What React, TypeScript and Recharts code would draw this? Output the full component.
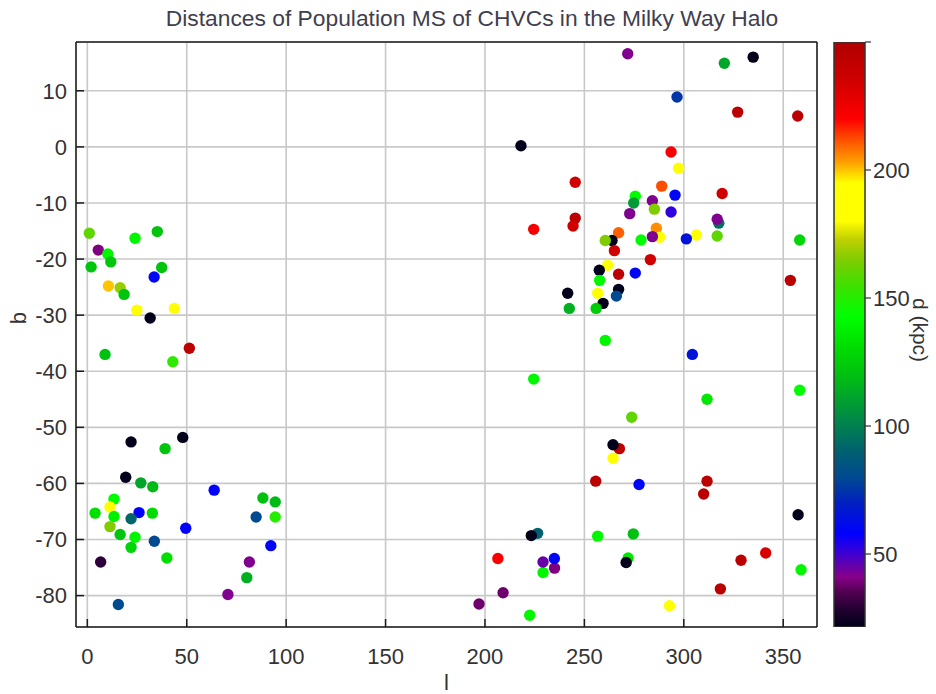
import {
  Bar,
  BarChart,
  CartesianGrid,
  Label,
  Scatter,
  ScatterChart,
  XAxis,
  YAxis,
} from "recharts";

// galactic longitude l (deg)
const lon = [
  1.0, 24.0, 35.2, 5.5, 10.3, 11.8, 1.9, 37.4, 33.6, 10.6, 16.5, 18.5, 24.9, 43.8, 31.6, 51.3, 8.9, 43.0,
  22.0, 48.0, 39.1, 19.3, 26.9, 32.9, 63.8, 88.3, 94.5, 13.4, 11.4, 3.9, 13.4, 26.0, 22.0, 32.7, 11.4, 16.5,
  24.0, 22.0, 33.7, 49.5, 84.9, 94.5, 92.3, 6.7, 40.0, 81.5, 80.2, 70.7, 15.6,
  271.8, 320.4, 334.9, 296.6, 327.1, 357.3, 218.1, 293.6, 297.4, 245.4, 288.9, 319.3, 295.6, 275.6, 274.8,
  284.2, 285.2, 293.6, 272.8, 245.4, 244.3, 224.5, 317.6, 316.8, 286.2, 267.2, 287.9, 284.2, 306.3, 301.3,
  316.8, 278.5, 263.9, 260.5, 358.3, 265.1, 283.2, 261.7, 257.5, 267.2, 275.6, 257.7, 353.6, 241.6, 256.7,
  267.2, 266.1, 259.4, 242.4, 255.9, 260.5,
  304.3, 224.5, 358.3, 311.7, 273.8, 267.6, 264.4, 264.4, 255.7, 277.5, 311.7, 310.0, 357.5, 226.5, 223.3,
  256.7, 274.6, 206.5, 229.2, 235.0, 229.2, 234.9, 272.0, 271.0, 341.2, 328.8, 318.4, 209.1, 197.0, 222.5,
  292.8, 359.0,
];

// galactic latitude b (deg)
const lat = [
  -15.4, -16.3, -15.1, -18.4, -19.1, -20.5, -21.4, -21.5, -23.2, -24.8, -25.1, -26.3, -29.1, -28.8, -30.5, -35.9, -37.0, -38.3,
  -52.6, -51.8, -53.8, -58.9, -59.9, -60.6, -61.2, -62.6, -63.3, -62.8, -64.2, -65.3, -65.9, -65.2, -66.3, -65.3, -67.7, -69.1,
  -69.6, -71.4, -70.3, -68.0, -66.0, -66.0, -71.1, -74.0, -73.3, -74.0, -76.8, -79.8, -81.6,
  16.6, 14.9, 16.0, 8.9, 6.2, 5.5, 0.2, -0.9, -3.8, -6.3, -7.0, -8.3, -8.6, -8.8, -10.0,
  -9.6, -11.1, -11.6, -11.9, -12.7, -14.1, -14.7, -13.6, -12.9, -14.5, -15.3, -16.1, -16.0, -15.7, -16.4,
  -15.9, -16.6, -16.7, -16.7, -16.6, -18.5, -20.1, -21.1, -22.0, -22.7, -22.5, -23.8, -23.8, -26.1, -26.1,
  -25.4, -26.6, -27.9, -28.8, -28.8, -34.5,
  -37.0, -41.4, -43.4, -45.0, -48.2, -53.8, -53.1, -55.5, -59.6, -60.2, -59.6, -61.9, -65.6, -68.9, -69.3,
  -69.4, -69.0, -73.4, -75.9, -75.1, -74.0, -73.4, -73.3, -74.1, -72.4, -73.7, -78.8, -79.5, -81.5, -83.5,
  -81.8, -75.4,
];

// distance d (kpc)
const dist = [
  160, 140, 122, 40, 140, 122, 122, 122, 60, 200, 168, 122, 188, 188, 22, 245, 120, 152,
  22, 22, 122, 22, 112, 118, 58, 120, 118, 142, 190, 132, 138, 58, 92, 130, 165, 122,
  140, 128, 80, 58, 80, 150, 60, 30, 132, 42, 115, 42, 80,
  42, 112, 22, 75, 245, 245, 22, 222, 192, 235, 212, 235, 60, 142, 108,
  42, 165, 52, 42, 245, 235, 222, 95, 42, 205, 210, 190, 42, 195, 65,
  160, 142, 22, 165, 128, 235, 235, 190, 22, 245, 60, 140, 245, 22, 190,
  22, 80, 22, 115, 125, 140,
  65, 140, 142, 135, 160, 245, 22, 190, 245, 60, 245, 245, 22, 90, 22,
  140, 120, 222, 140, 40, 45, 60, 135, 22, 232, 245, 245, 38, 38, 140,
  190, 140,
];

const lTicks = [0, 50, 100, 150, 200, 250, 300, 350];
const bTicks = [-80, -70, -60, -50, -40, -30, -20, -10, 0, 10];
const dTicks = [50, 100, 150, 200, 250];
const dMin = 21.5;
const dMax = 250;

// colour scale of the d axis
const colorStops: [number, string][] = [
  [21.5, "#000018"],
  [28, "#200030"],
  [35, "#500050"],
  [41, "#880088"],
  [46, "#6000b0"],
  [52, "#3000e0"],
  [58, "#0000ff"],
  [70, "#0020c0"],
  [80, "#004a90"],
  [90, "#006070"],
  [100, "#008050"],
  [110, "#00a030"],
  [120, "#00c010"],
  [132, "#00e000"],
  [143, "#00ff00"],
  [155, "#40e000"],
  [165, "#80cc00"],
  [173, "#c0d000"],
  [180, "#ffff00"],
  [195, "#ffff00"],
  [203, "#ffa000"],
  [210, "#ff6000"],
  [220, "#ff0000"],
  [235, "#d00000"],
  [250, "#b00000"],
];

const FONT = "'Liberation Sans', Arial, sans-serif";

const hex = (c: string) => [1, 3, 5].map((i) => parseInt(c.slice(i, i + 2), 16));

function colorFor(v: number) {
  if (v <= colorStops[0][0]) return colorStops[0][1];
  for (let i = 1; i < colorStops.length; i++) {
    const [v1, c1] = colorStops[i];
    if (v <= v1) {
      const [v0, c0] = colorStops[i - 1];
      const t = (v - v0) / (v1 - v0);
      const a = hex(c0);
      const b = hex(c1);
      const rgb = a.map((x, k) => Math.round(x + (b[k] - x) * t));
      return `rgb(${rgb.join(",")})`;
    }
  }
  return colorStops[colorStops.length - 1][1];
}

const points = lon.map((l, i) => ({ l, b: lat[i], d: dist[i] }));
const barData = [{ name: "d", range: [dMin, dMax] }];

const axisLine = { stroke: "#1a1a1a", strokeWidth: 1.5 };
const tickStyle = { fill: "#333", fontSize: 22, fontFamily: FONT };

const renderDot = (p: any) => (
  <circle cx={p.cx} cy={p.cy} r={5.7} fill={colorFor(p.payload.d)} />
);

export default function App() {
  return (
    <div
      style={{
        position: "absolute",
        left: 0,
        top: 0,
        width: 936,
        height: 694,
        background: "#fff",
        fontFamily: FONT,
      }}
    >
      <svg width={0} height={0} style={{ position: "absolute" }}>
        <defs>
          <linearGradient id="cbar" x1="0" y1="0" x2="0" y2="1">
            {colorStops
              .slice()
              .reverse()
              .map(([v, c]) => (
                <stop key={v} offset={(dMax - v) / (dMax - dMin)} stopColor={c} />
              ))}
          </linearGradient>
        </defs>
      </svg>

      <div
        style={{
          position: "absolute",
          left: 0,
          top: 7,
          width: 944,
          textAlign: "center",
          fontSize: 22.8,
          lineHeight: "22px",
          color: "#3f3f4f",
        }}
      >
        Distances of Population MS of CHVCs in the Milky Way Halo
      </div>

      <div style={{ position: "absolute", left: 0, top: 0 }}>
        <ScatterChart width={936} height={694} margin={{ top: 41, right: 118, bottom: 7, left: 6 }}>
          <CartesianGrid stroke="#c8c8c8" strokeWidth={1.6} />
          <XAxis
            type="number"
            dataKey="l"
            domain={[-5.7, 367]}
            ticks={lTicks}
            interval={0}
            allowDataOverflow
            height={60}
            tickSize={-8}
            tickMargin={29}
            axisLine={axisLine}
            tickLine={axisLine}
            tick={tickStyle}
          >
            <Label
              content={(props: any) => {
                const vb = props.viewBox;
                return (
                  <text
                    x={vb.x + vb.width / 2}
                    y={vb.y + 63}
                    textAnchor="middle"
                    fontSize={22}
                    fontFamily={FONT}
                    fill="#333"
                  >
                    l
                  </text>
                );
              }}
            />
          </XAxis>
          <YAxis
            type="number"
            dataKey="b"
            domain={[-85.6, 18.7]}
            ticks={bTicks}
            interval={0}
            allowDataOverflow
            width={70}
            tickSize={-8}
            tickMargin={17}
            axisLine={axisLine}
            tickLine={axisLine}
            tick={tickStyle}
          >
            <Label
              content={() => (
                <text
                  x={26}
                  y={318}
                  transform="rotate(-90 26 318)"
                  textAnchor="middle"
                  fontSize={22}
                  fontFamily={FONT}
                  fill="#333"
                >
                  b
                </text>
              )}
            />
          </YAxis>
          <XAxis
            xAxisId="top"
            orientation="top"
            type="number"
            domain={[-5.7, 367]}
            ticks={lTicks}
            interval={0}
            allowDataOverflow
            height={1}
            tickSize={-8}
            tick={false}
            axisLine={axisLine}
            tickLine={axisLine}
          />
          <YAxis
            yAxisId="right"
            orientation="right"
            type="number"
            domain={[-85.6, 18.7]}
            ticks={bTicks}
            interval={0}
            allowDataOverflow
            width={1}
            tickSize={-8}
            tick={false}
            axisLine={axisLine}
            tickLine={axisLine}
          />
          <Scatter data={points} isAnimationActive={false} shape={renderDot} />
        </ScatterChart>
      </div>

      <div style={{ position: "absolute", left: 826, top: 0 }}>
        <BarChart
          width={110}
          height={694}
          data={barData}
          margin={{ top: 42, right: 0, bottom: 67, left: 8 }}
          barCategoryGap={0}
        >
          <XAxis dataKey="name" hide />
          <YAxis
            orientation="right"
            type="number"
            domain={[dMin, dMax]}
            ticks={dTicks}
            interval={0}
            allowDataOverflow
            width={71}
            tickSize={6}
            tickMargin={2}
            axisLine={false}
            tickLine={{ stroke: "#333", strokeWidth: 1.2 }}
            tick={tickStyle}
            tickFormatter={(v: number) => (v === 250 ? "" : String(v))}
          >
            <Label
              content={() => (
                <text
                  x={87}
                  y={330}
                  transform="rotate(90 87 330)"
                  textAnchor="middle"
                  fontSize={21}
                  fontFamily={FONT}
                  fill="#333"
                >
                  d (kpc)
                </text>
              )}
            />
          </YAxis>
          <Bar dataKey="range" fill="url(#cbar)" stroke="#333" strokeWidth={1.5} isAnimationActive={false} />
        </BarChart>
      </div>
    </div>
  );
}
